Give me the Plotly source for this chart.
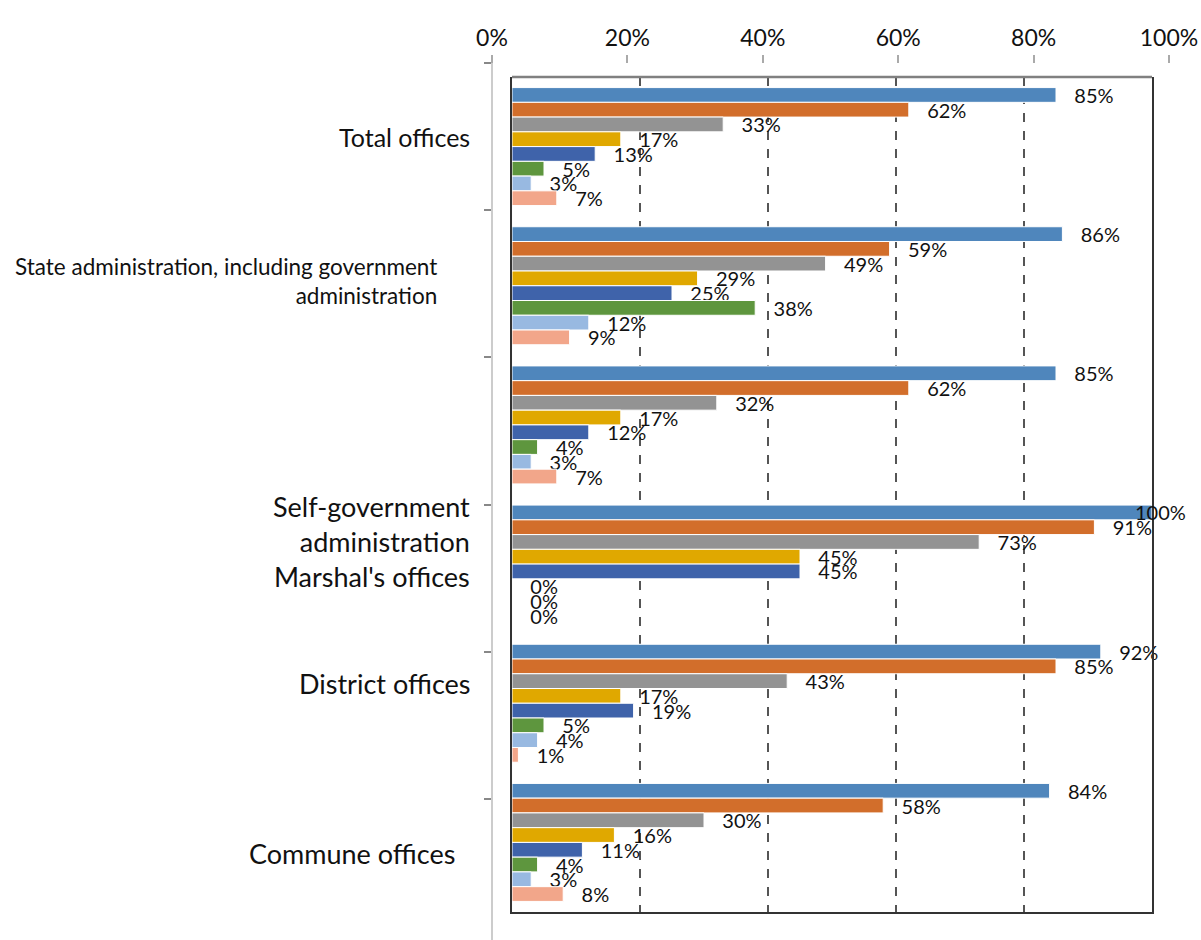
import plotly.graph_objects as go

# ---------------- data ----------------
categories = [
    "Total offices",
    "State administration, including government administration",
    "Offices (unlabelled group)",
    "Self-government administration Marshal's offices",
    "District offices",
    "Commune offices",
]
category_labels = [
    "Total offices",
    "State administration, including government<br>administration",
    "",
    "Self-government<br>administration<br>Marshal's offices",
    "District offices",
    "Commune offices",
]
series_names = ["Series 1", "Series 2", "Series 3", "Series 4",
                "Series 5", "Series 6", "Series 7", "Series 8"]
s1 = [0.85, 0.86, 0.85, 1.00, 0.92, 0.84]
s2 = [0.62, 0.59, 0.62, 0.91, 0.85, 0.58]
s3 = [0.33, 0.49, 0.32, 0.73, 0.43, 0.30]
s4 = [0.17, 0.29, 0.17, 0.45, 0.17, 0.16]
s5 = [0.13, 0.25, 0.12, 0.45, 0.19, 0.11]
s6 = [0.05, 0.38, 0.04, 0.00, 0.05, 0.04]
s7 = [0.03, 0.12, 0.03, 0.00, 0.04, 0.03]
s8 = [0.07, 0.09, 0.07, 0.00, 0.01, 0.08]
series_values = [s1, s2, s3, s4, s5, s6, s7, s8]
outer_ticks = [0, 0.2, 0.4, 0.6, 0.8, 1.0]

# ---------------- style ----------------
colors = ["#4F86BC", "#D26E2B", "#939393", "#E0A800",
          "#3F63AA", "#5E963E", "#98B9E1", "#F2A68A"]
FONT = "Lato"
W, H = 1201, 940
BARGAP = 0.152
LABEL_SIZE = 20
PAD = "\u00a0\u00a0\u00a0"

def px_x(p):
    return p / W

def px_y(p):
    return 1 - p / H

n_series = len(series_values)
fig = go.Figure()
annotations = []
for si, (name, vals, col) in enumerate(zip(series_names, series_values, colors)):
    # labels that would run past the chart edge are pulled back inside (as Excel does)
    positions = ["none" if v >= 0.98 else "outside" for v in vals]
    fig.add_trace(go.Bar(
        y=categories, x=vals, name=name, orientation="h",
        marker=dict(color=col, line=dict(color="white", width=1)),
        texttemplate=PAD + "%{x:.0%}",
        textposition=positions, cliponaxis=False, constraintext="none",
        textfont=dict(family=FONT, size=LABEL_SIZE, color="#111111"),
        showlegend=False, hoverinfo="x+y",
    ))
    for ci, v in enumerate(vals):
        if v >= 0.98:
            offset = (si - (n_series - 1) / 2) * (1 - BARGAP) / n_series
            annotations.append(dict(
                text=f"{v:.0%}", xref="x", yref="y", x=v, y=ci + offset,
                xanchor="right", yanchor="middle", xshift=36, showarrow=False,
                font=dict(family=FONT, size=LABEL_SIZE, color="#111111"),
            ))

# dummy trace to activate the outer frame axes
fig.add_trace(go.Scatter(x=[0], y=[0], xaxis="x2", yaxis="y2", mode="markers",
                         marker=dict(opacity=0), showlegend=False, hoverinfo="skip"))

# category label annotations (layout positions in pixels)
label_layout = [  # (right edge px, centre y px, font size)
    (472, 137, 25),
    (439, 281, 22.5),
    (472, 400, 25),
    (472, 541, 27),
    (472, 683, 27),
    (457, 853, 27),
]
for txt, (rx, cy, fs) in zip(category_labels, label_layout):
    if not txt:
        continue
    annotations.append(dict(
        text=txt, xref="paper", yref="paper", x=px_x(rx), y=px_y(cy),
        xanchor="right", yanchor="middle", align="right", showarrow=False,
        font=dict(family=FONT, size=fs, color="#111111"),
    ))

top_y = 77
bot_y = 912
left_x = 512
right_x = 1152

fig.update_layout(
    width=W, height=H, autosize=False,
    margin=dict(l=0, r=0, t=0, b=0, pad=0, autoexpand=False),
    paper_bgcolor="white", plot_bgcolor="rgba(0,0,0,0)",
    barmode="group", bargap=BARGAP, bargroupgap=0.0,
    font=dict(family=FONT, color="#111111"),
    showlegend=False,
    annotations=annotations,
    xaxis=dict(
        domain=[px_x(left_x), px_x(right_x)], range=[0, 1],
        showticklabels=False, ticks="", automargin=False,
        tickvals=[0.2, 0.4, 0.6, 0.8],
        showgrid=True, gridcolor="#555555", gridwidth=1.5, griddash="dash",
        zeroline=False, showline=True, linecolor="#333333", linewidth=2,
        mirror=False,
    ),
    yaxis=dict(
        domain=[px_y(bot_y), px_y(top_y)], autorange="reversed", automargin=False,
        showticklabels=False, ticks="", showgrid=False, zeroline=False,
        showline=True, linecolor="#333333", linewidth=2, mirror=True,
    ),
    xaxis2=dict(
        domain=[px_x(492), px_x(1169)], range=[0, 1], anchor="free",
        position=px_y(63), side="top", tickvals=outer_ticks, automargin=False,
        tickformat=".0%", ticks="outside", ticklen=8, tickwidth=1.5,
        tickcolor="#aaaaaa", showline=False, showgrid=False, zeroline=False,
        tickfont=dict(family=FONT, size=23, color="#111111"),
    ),
    yaxis2=dict(
        domain=[0, px_y(63)], range=[(H - 63) / 147.2, 0], anchor="free",
        position=px_x(491.5), side="left", tickvals=[0, 1, 2, 3, 4, 5],
        automargin=False,
        ticks="outside", ticklen=7, tickwidth=1.5, tickcolor="#888888",
        showticklabels=False, showline=True, linecolor="#cccccc", linewidth=1.5,
        showgrid=False, zeroline=False,
    ),
    shapes=[dict(type="line", xref="paper", yref="paper",
                 x0=px_x(left_x), x1=px_x(right_x), y0=px_y(top_y), y1=px_y(top_y),
                 line=dict(color="#808080", width=2.5))],
)

fig.write_html(
    "out.html",
    config={"responsive": False, "displayModeBar": False},
    post_script="document.body.style.margin='0px';document.body.style.overflow='hidden';",
)
